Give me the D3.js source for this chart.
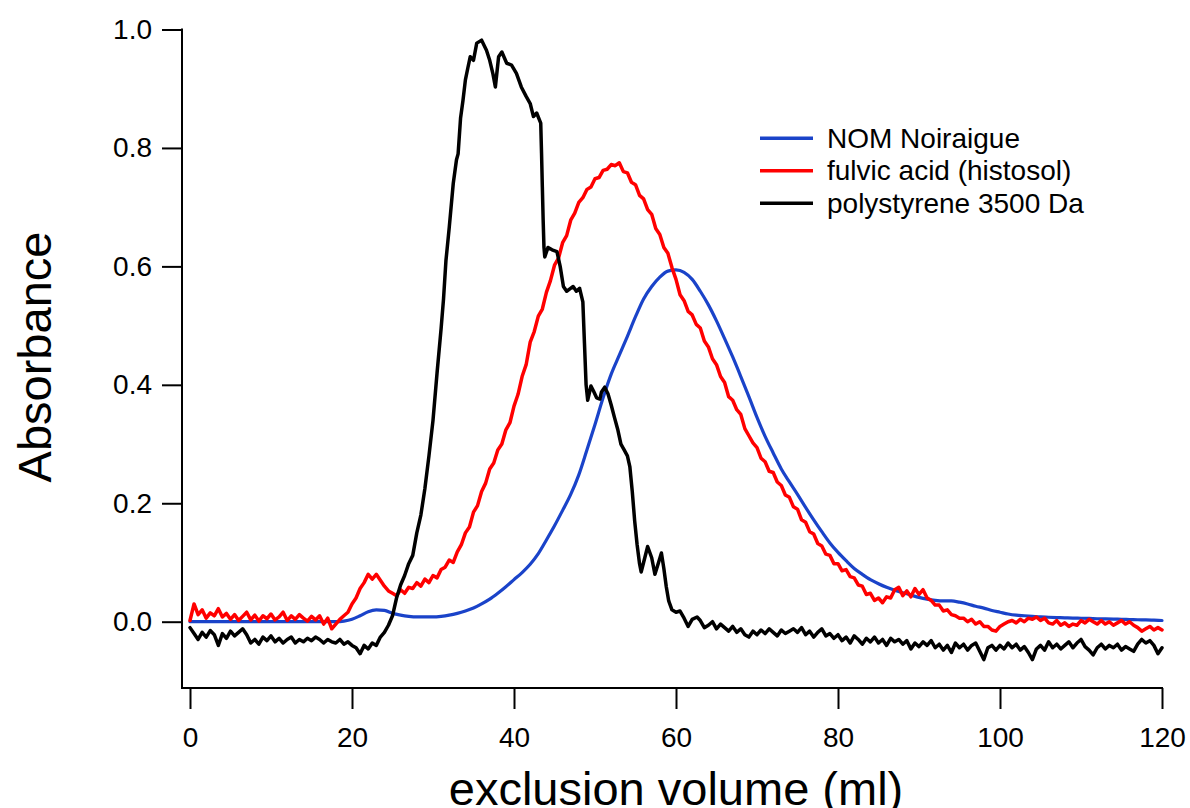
<!DOCTYPE html>
<html>
<head>
<meta charset="utf-8">
<script src="https://cdn.jsdelivr.net/npm/d3@7"></script>
<style>
  html, body { margin: 0; padding: 0; background: #fff; }
  svg { display: block; }
  text { font-family: "Liberation Sans", Arial, sans-serif; fill: #000; }
</style>
</head>
<body>
<svg id="chart" width="1190" height="808"></svg>
<script>
// ---------- DATA ----------
const seriesNames = ["NOM Noiraigue", "fulvic acid (histosol)", "polystyrene 3500 Da"];
const seriesColors = ["#1a43c9", "#ff0000", "#000000"];
const xTicks = [0, 20, 40, 60, 80, 100, 120];
const yTicks = [0.0, 0.2, 0.4, 0.6, 0.8, 1.0];
const xLabel = "exclusion volume (ml)";
const yLabel = "Absorbance";

// NOM Noiraigue, sampled every 1 ml from 0 to 120 ml
const nomStep = 1;
const nomValues = [
  0,0,0,0,0,0,0,0,0,0,
  0,0,0,0,0,0,0,0,0,0.001,
  0.004,0.010,0.017,0.020,0.019,0.014,0.011,0.009,0.008,0.008,
  0.008,0.009,0.011,0.014,0.018,0.023,0.030,0.038,0.048,0.059,
  0.071,0.083,0.097,0.115,0.138,0.162,0.188,0.215,0.248,0.290,
  0.333,0.378,0.418,0.450,0.482,0.515,0.545,0.566,0.582,0.592,
  0.594,0.590,0.578,0.558,0.535,0.508,0.478,0.447,0.414,0.380,
  0.345,0.313,0.285,0.258,0.236,0.215,0.193,0.172,0.152,0.133,
  0.117,0.103,0.090,0.080,0.071,0.064,0.058,0.053,0.049,0.045,
  0.041,0.038,0.036,0.035,0.035,0.033,0.030,0.026,0.023,0.019,
  0.016,0.013,0.011,0.010,0.009,0.008,0.0075,0.007,0.0065,0.006,
  0.0058,0.0055,0.005,0.0048,0.0045,0.004,0.0037,0.0033,0.003,0.0025,0.002
];

// fulvic acid (histosol), sampled every 0.5 ml from 0 to 120 ml
const fulvicStep = 0.5;
const fulvicValues = [
  0.002,0.030,0.012,0.020,0.006,0.015,0.010,0.022,0.008,0.014,
  0.004,0.012,0.002,0.009,0.016,0.003,0.011,0.001,0.010,0.005,
  0.013,0.003,0.008,0.016,0.002,0.010,0.004,0.012,0.006,0.001,
  0.009,0.003,0.010,-0.004,0.006,-0.012,-0.004,0.004,0.010,0.016,
  0.030,0.040,0.056,0.066,0.080,0.072,0.080,0.070,0.060,0.052,
  0.048,0.044,0.054,0.048,0.058,0.056,0.066,0.060,0.072,0.066,
  0.078,0.074,0.088,0.092,0.104,0.100,0.118,0.130,0.150,0.160,
  0.185,0.196,0.220,0.234,0.258,0.268,0.290,0.300,0.324,0.336,
  0.364,0.384,0.414,0.434,0.472,0.490,0.516,0.528,0.556,0.576,
  0.602,0.614,0.640,0.652,0.678,0.690,0.708,0.716,0.730,0.734,
  0.748,0.750,0.762,0.764,0.772,0.770,0.775,0.760,0.758,0.742,
  0.738,0.720,0.714,0.696,0.688,0.664,0.654,0.632,0.622,0.598,
  0.578,0.552,0.542,0.524,0.518,0.502,0.496,0.474,0.464,0.444,
  0.434,0.414,0.404,0.380,0.374,0.358,0.350,0.326,0.314,0.302,
  0.294,0.276,0.270,0.254,0.252,0.236,0.230,0.214,0.210,0.194,
  0.190,0.172,0.168,0.152,0.148,0.132,0.128,0.114,0.112,0.098,
  0.098,0.086,0.088,0.076,0.074,0.062,0.060,0.046,0.048,0.036,
  0.040,0.032,0.042,0.040,0.054,0.058,0.044,0.052,0.042,0.056,
  0.046,0.054,0.040,0.036,0.028,0.028,0.018,0.020,0.012,0.010,
  0.006,0.006,0.000,0.004,-0.004,0.000,-0.008,-0.008,-0.014,-0.016,
  -0.008,-0.004,0.000,0.002,-0.002,0.004,0.000,0.006,0.004,0.008,
  0.002,0.006,-0.002,-0.004,0.002,-0.006,-0.002,-0.008,-0.004,-0.006,
  0.002,-0.002,0.004,0.000,-0.004,0.002,-0.004,0.000,-0.006,-0.002,
  0.002,-0.004,0.000,-0.006,-0.010,-0.016,-0.012,-0.008,-0.014,-0.010,
  -0.014
];

// polystyrene 3500 Da, [volume ml, absorbance]
const polystyrenePoints = [
  [0,-0.010],[0.5,-0.020],[1,-0.030],[1.5,-0.018],[2,-0.026],[2.5,-0.015],[3,-0.022],[3.5,-0.040],[4,-0.020],[4.5,-0.028],
  [5,-0.016],[5.5,-0.024],[6,-0.018],[6.5,-0.012],[7,-0.022],[7.5,-0.036],[8,-0.030],[8.5,-0.038],[9,-0.026],[9.5,-0.032],
  [10,-0.024],[10.5,-0.034],[11,-0.028],[11.5,-0.036],[12,-0.030],[12.5,-0.026],[13,-0.036],[13.5,-0.030],[14,-0.034],[14.5,-0.028],
  [15,-0.032],[15.5,-0.026],[16,-0.030],[16.5,-0.036],[17,-0.030],[17.5,-0.034],[18,-0.036],[18.5,-0.030],[19,-0.038],[19.5,-0.034],
  [20,-0.040],[20.5,-0.044],[21,-0.054],[21.5,-0.040],[22,-0.046],[22.5,-0.036],[23,-0.040],[23.5,-0.026],[24,-0.018],[24.5,-0.006],
  [25,0.010],[25.5,0.040],[26,0.062],[26.5,0.078],[27,0.098],[27.5,0.112],[28,0.150],[28.5,0.180],[29,0.225],[29.5,0.280],
  [30,0.340],[30.5,0.420],[31,0.495],[31.3,0.545],[31.6,0.610],[32,0.665],[32.5,0.740],[32.9,0.780],[33.1,0.790],[33.4,0.850],
  [33.7,0.880],[34,0.915],[34.3,0.935],[34.6,0.954],[35,0.948],[35.4,0.977],[36,0.982],[36.6,0.965],[37,0.948],[37.4,0.925],
  [37.7,0.903],[38.1,0.954],[38.5,0.962],[39.1,0.943],[39.7,0.940],[40.3,0.926],[40.9,0.903],[41.5,0.887],[42,0.875],[42.4,0.853],
  [42.8,0.859],[43.3,0.842],[43.4,0.791],[43.5,0.734],[43.6,0.678],[43.7,0.632],[43.8,0.616],[44.2,0.632],[44.7,0.628],[45.3,0.625],
  [45.7,0.600],[46.1,0.566],[46.5,0.558],[46.9,0.562],[47.3,0.566],[47.7,0.558],[48.1,0.563],[48.5,0.540],[48.7,0.470],[48.9,0.400],
  [49.1,0.374],[49.5,0.398],[49.8,0.390],[50.2,0.378],[50.6,0.376],[50.8,0.388],[51.2,0.396],[51.6,0.385],[52,0.366],[52.4,0.345],
  [52.8,0.325],[53.2,0.300],[53.6,0.290],[54,0.280],[54.3,0.262],[54.6,0.220],[54.9,0.170],[55.2,0.130],[55.5,0.098],[55.7,0.084],
  [56,0.100],[56.5,0.127],[57,0.108],[57.4,0.080],[57.8,0.098],[58.2,0.116],[58.5,0.090],[58.8,0.059],[59.1,0.035],[59.5,0.020],
  [60,0.016],[60.5,0.018],[61,0.006],[61.5,-0.008],[62,0.004],[62.6,0.008],[63,0.002],[63.5,-0.010],[64,-0.006],[64.5,0.000],
  [65,-0.012],[65.5,-0.004],[66,-0.010],[66.5,-0.016],[67,-0.008],[67.5,-0.018],[68,-0.012],[68.5,-0.022],[69,-0.026],[69.5,-0.016],
  [70,-0.022],[70.5,-0.014],[71,-0.020],[71.5,-0.012],[72,-0.018],[72.5,-0.024],[73,-0.014],[73.5,-0.020],[74,-0.016],[74.5,-0.012],
  [75,-0.018],[75.5,-0.010],[76,-0.022],[76.5,-0.016],[77,-0.026],[77.5,-0.018],[78,-0.012],[78.5,-0.024],[79,-0.020],[79.5,-0.028],
  [80,-0.022],[80.5,-0.032],[81,-0.026],[81.5,-0.036],[82,-0.024],[82.5,-0.030],[83,-0.038],[83.5,-0.028],[84,-0.034],[84.5,-0.026],
  [85,-0.036],[85.5,-0.030],[86,-0.040],[86.5,-0.028],[87,-0.034],[87.5,-0.030],[88,-0.038],[88.5,-0.032],[89,-0.046],[89.5,-0.036],
  [90,-0.042],[90.5,-0.034],[91,-0.040],[91.5,-0.032],[92,-0.044],[92.5,-0.038],[93,-0.048],[93.5,-0.040],[94,-0.052],[94.5,-0.036],
  [95,-0.044],[95.5,-0.038],[96,-0.048],[96.5,-0.040],[97,-0.036],[97.5,-0.050],[98,-0.064],[98.5,-0.044],[99,-0.040],[99.5,-0.048],
  [100,-0.040],[100.5,-0.046],[101,-0.036],[101.5,-0.044],[102,-0.038],[102.5,-0.048],[103,-0.042],[103.5,-0.052],[104,-0.064],[104.5,-0.046],
  [105,-0.040],[105.5,-0.048],[106,-0.034],[106.5,-0.044],[107,-0.038],[107.5,-0.046],[108,-0.040],[108.5,-0.034],[109,-0.044],[109.5,-0.036],
  [110,-0.030],[110.5,-0.042],[111,-0.048],[111.5,-0.056],[112,-0.044],[112.5,-0.038],[113,-0.046],[113.5,-0.040],[114,-0.044],[114.5,-0.038],
  [115,-0.048],[115.5,-0.042],[116,-0.046],[116.5,-0.050],[117,-0.038],[117.5,-0.030],[118,-0.036],[118.5,-0.032],[119,-0.040],[119.5,-0.054],
  [120,-0.044]
];

// ---------- BUILD ----------
const nomData = nomValues.map((v, i) => [i * nomStep, v]);
const fulvicData = fulvicValues.map((v, i) => [i * fulvicStep, v]);
const allSeries = [nomData, fulvicData, polystyrenePoints];

const svg = d3.select("#chart");
svg.append("rect").attr("width", 1190).attr("height", 808).attr("fill", "#fff");

const x = d3.scaleLinear().domain([0, 120]).range([190, 1162]);
const y = d3.scaleLinear().domain([0, 1.0]).range([621.7, 29.5]);
const axisLeftX = 182;
const axisBottomY = y(-0.112);

// Left axis
const yAxis = d3.axisLeft(y).tickValues(yTicks).tickFormat(d3.format(".1f"))
  .tickSize(20).tickPadding(10).tickSizeOuter(0);
const gy = svg.append("g").attr("transform", `translate(${axisLeftX},0)`).call(yAxis);
gy.select(".domain").remove();
gy.selectAll(".tick line").attr("stroke", "#000").attr("stroke-width", 2);
gy.selectAll(".tick text").attr("font-size", 28).attr("font-family", "Liberation Sans, Arial, sans-serif");
svg.append("line").attr("x1", axisLeftX).attr("x2", axisLeftX)
  .attr("y1", y(1.0) - 1).attr("y2", axisBottomY + 1)
  .attr("stroke", "#000").attr("stroke-width", 2);

// Bottom axis
const xAxis = d3.axisBottom(x).tickValues(xTicks).tickFormat(d3.format("d"))
  .tickSize(21).tickPadding(18).tickSizeOuter(0);
const gx = svg.append("g").attr("transform", `translate(0,${axisBottomY})`).call(xAxis);
gx.select(".domain").remove();
gx.selectAll(".tick line").attr("stroke", "#000").attr("stroke-width", 2);
gx.selectAll(".tick text").attr("font-size", 28).attr("font-family", "Liberation Sans, Arial, sans-serif");
svg.append("line").attr("x1", axisLeftX - 1).attr("x2", x(120) + 1)
  .attr("y1", axisBottomY).attr("y2", axisBottomY)
  .attr("stroke", "#000").attr("stroke-width", 2);

// Axis titles
svg.append("text").text(xLabel)
  .attr("x", (x(0) + x(120)) / 2).attr("y", 805)
  .attr("text-anchor", "middle").attr("font-size", 47);
svg.append("text").text(yLabel)
  .attr("transform", `translate(51,${357}) rotate(-90)`)
  .attr("text-anchor", "middle").attr("font-size", 47);

// Lines
const line = d3.line().x(d => x(d[0])).y(d => y(d[1]));
const lineSmooth = d3.line().x(d => x(d[0])).y(d => y(d[1])).curve(d3.curveMonotoneX);
const widths = [3.2, 3.5, 3.5];
allSeries.forEach((data, i) => {
  svg.append("path").datum(data)
    .attr("d", i === 0 ? lineSmooth : line)
    .attr("fill", "none")
    .attr("stroke", seriesColors[i])
    .attr("stroke-width", widths[i])
    .attr("stroke-linejoin", "round")
    .attr("stroke-linecap", "round");
});

// Legend
const legend = svg.append("g");
seriesNames.forEach((name, i) => {
  const cy = 138.3 + i * 32.5;
  legend.append("line").attr("x1", 760).attr("x2", 813)
    .attr("y1", cy).attr("y2", cy)
    .attr("stroke", seriesColors[i]).attr("stroke-width", 3.5);
  legend.append("text").text(name)
    .attr("x", 827).attr("y", cy + 9.5)
    .attr("font-size", 28);
});
</script>
</body>
</html>
